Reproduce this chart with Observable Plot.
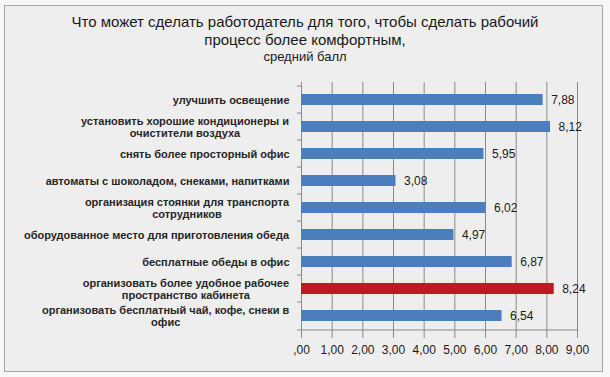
<!DOCTYPE html>
<html><head><meta charset="utf-8">
<script src="https://cdn.jsdelivr.net/npm/d3@7"></script>
<script src="https://cdn.jsdelivr.net/npm/@observablehq/plot@0.6"></script>
<style>
body{margin:0;background:#f7f7f7;font-family:"Liberation Sans",Arial,sans-serif;}
#wrap{position:relative;width:610px;height:377px;overflow:hidden}
#frame{position:absolute;left:4px;top:5px;width:597px;height:365px;border:1px solid #a6a6a6;background:#eeeeee}
#title{position:absolute;left:0;width:610px;top:13px;text-align:center;color:#1a1a1a;font-size:15px;line-height:18px}
#sub{font-size:13px;line-height:16px}
#chart{position:absolute;left:0;top:0}
</style></head>
<body>
<div id="wrap">
  <div id="frame"></div>
  <div id="title">Что может сделать работодатель для того, чтобы сделать рабочий<br>процесс более комфортным,<div id="sub">средний балл</div></div>
  <div id="chart"></div>
</div>
<script>
const categories = [
  "улучшить освещение",
  "установить хорошие кондиционеры и\nочистители воздуха",
  "снять более просторный офис",
  "автоматы с шоколадом, снеками, напитками",
  "организация стоянки для транспорта\nсотрудников",
  "оборудованное место для приготовления обеда",
  "бесплатные обеды в офис",
  "организовать более удобное рабочее\nпространство кабинета",
  "организовать бесплатный чай, кофе, снеки в\nофис"
];
const values = [7.88, 8.12, 5.95, 3.08, 6.02, 4.97, 6.87, 8.24, 6.54];
const highlighted = "организовать более удобное рабочее\nпространство кабинета";
const xTicks = [0, 1, 2, 3, 4, 5, 6, 7, 8, 9];
const xTickLabels = [",00", "1,00", "2,00", "3,00", "4,00", "5,00", "6,00", "7,00", "8,00", "9,00"];

const blue = "#4a7ebc";
const red = "#c01a20";
const data = categories.map((c, i) => ({cat: c, value: values[i]}));
const fmt = v => v.toFixed(2).replace(".", ",");

const W = 610, H = 377, mTop = 82, mBottom = 44, mLeft = 301, mRight = 33;
const step = (H - mTop - mBottom) / categories.length;

const chart = Plot.plot({
  width: W, height: H,
  marginTop: mTop, marginBottom: mBottom, marginLeft: mLeft, marginRight: mRight,
  style: {background: "transparent", fontFamily: "'Liberation Sans', Arial, sans-serif", fontSize: "12px", color: "#1a1a1a"},
  x: {domain: [0, 9], axis: null},
  y: {domain: categories, paddingInner: 0.6, paddingOuter: 0.3, axis: null},
  color: {type: "identity"},
  marks: [
    Plot.gridX(xTicks.slice(1), {stroke: "#8a8a8a", strokeOpacity: 1}),
    Plot.ruleX([0], {stroke: "#8a8a8a"}),
    Plot.ruleY([categories[categories.length - 1]], {y: d => d, dy: step / 2, x1: 0, x2: 9, stroke: "#8a8a8a"}),
    Plot.ruleY(categories, {y: d => d, dy: -step / 2, x1: 0, x2: 0, insetLeft: -4, stroke: "#8a8a8a"}),
    Plot.ruleY([categories[categories.length - 1]], {y: d => d, dy: step / 2, x1: 0, x2: 0, insetLeft: -4, stroke: "#8a8a8a"}),
    Plot.tickX(xTicks, {x: d => d, stroke: "#8a8a8a", insetTop: H - mTop - mBottom, insetBottom: -5}),
    Plot.barX(data, {y: "cat", x: "value", fill: d => d.cat === highlighted ? red : blue}),
    Plot.text(data, {y: "cat", x: "value", text: d => fmt(d.value), textAnchor: "start", dx: 8, fontSize: 12, fill: "#1a1a1a"}),
    Plot.text(data, {y: "cat", x: 0, text: "cat", textAnchor: "end", dx: -12, fontSize: 11, fontWeight: "bold", lineHeight: 1.1, fill: "#262626"}),
    Plot.text(xTicks, {x: d => d, frameAnchor: "bottom", dy: 20, text: d => xTickLabels[xTicks.indexOf(d)], fontSize: 12, fill: "#1a1a1a"})
  ]
});
document.getElementById("chart").appendChild(chart);

// center wrapped category labels on one another (as in the original), keeping right edges aligned
const flat = new Set(categories.map(c => c.replace("\n", "")));
chart.querySelectorAll("text").forEach(t => {
  if (!flat.has(t.textContent)) return;
  const w = t.getBBox().width;
  t.setAttribute("text-anchor", "middle");
  const tr = t.getAttribute("transform") || "";
  t.setAttribute("transform", tr + ` translate(${-w / 2},0)`);
});
</script>
</body></html>
